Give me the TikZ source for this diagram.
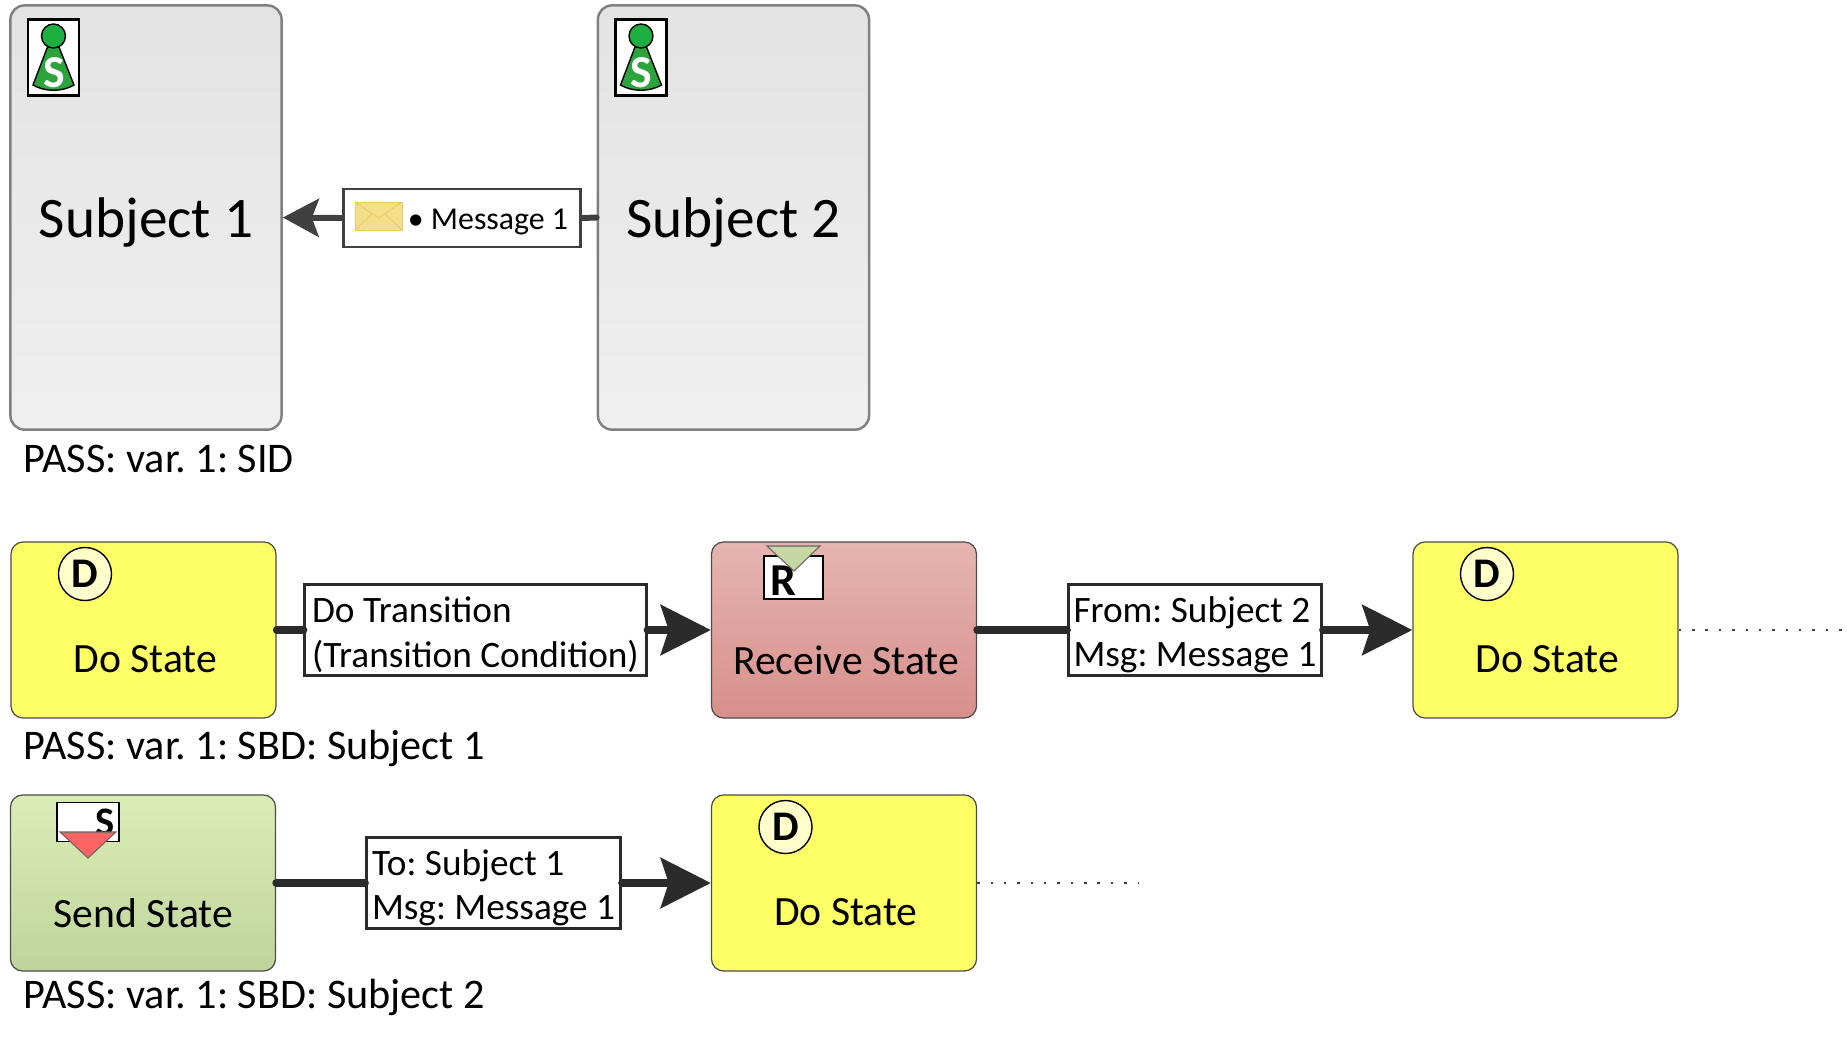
\documentclass[tikz,border=0pt]{standalone}
\usepackage{fontspec}
\setmainfont{Carlito}
\usetikzlibrary{arrows.meta}
\frenchspacing
\definecolor{linedark}{HTML}{2B2B2B}
\definecolor{linegray}{HTML}{404040}
\definecolor{dofill}{HTML}{FFFF66}
\definecolor{badgefill}{HTML}{FFFFCC}
\definecolor{recvtop}{HTML}{E6B5B0}
\definecolor{recvbottom}{HTML}{D78F8B}
\definecolor{sendtop}{HTML}{DBEDB6}
\definecolor{sendbottom}{HTML}{BFD49A}
\definecolor{pawnhead}{HTML}{1DB040}
\definecolor{pawncone}{HTML}{2BA43C}
\definecolor{envfill}{HTML}{F3DE8A}
\definecolor{envline}{HTML}{EBCB68}
\definecolor{recvtri}{HTML}{C5D8A4}
\definecolor{sendtri}{HTML}{FF6464}
\tikzset{
	subject/.style={draw=gray,line width=0.7pt,rounded corners=4pt,top color=black!11,bottom color=black!6,minimum width=2.71cm,minimum height=4.24cm,inner sep=0pt,font=\fontsize{16.3}{18}\selectfont},
	state/.style={draw=black!70,line width=0.35pt,rounded corners=3.5pt,minimum width=2.65cm,minimum height=1.76cm,inner sep=0pt},
	dostate/.style={state,fill=dofill},
	recvstate/.style={state,top color=recvtop,bottom color=recvbottom},
	sendstate/.style={state,top color=sendtop,bottom color=sendbottom},
	statetext/.style={inner sep=0pt,font=\fontsize{11.85}{14}\selectfont},
	caption/.style={anchor=west,inner sep=0pt,font=\fontsize{12}{14}\selectfont},
	msgbox/.style={draw=linedark,line width=0.8pt,fill=white,inner xsep=0.5pt,inner ysep=0pt,align=left,font=\fontsize{10.6}{12.6}\selectfont},
	conn/.style={draw=linedark,line width=2.2pt,line cap=round},
	arrowconn/.style={conn,-{Stealth[length=0.5cm,width=0.5cm,inset=0.08cm]}},
	dots/.style={draw=linegray,line width=0.7pt,dash pattern=on 0.7pt off 3.1pt},
	badge/.style={draw=black,fill=white,line width=0.5pt,inner sep=0pt},
	iconletter/.style={inner sep=0pt,font=\bfseries\fontsize{13}{14}\selectfont}
}
\newcommand{\boxstrut}{\rule{0pt}{10pt}}
\begin{document}
\begin{tikzpicture}[x=0.01cm,y=-0.01cm]
	\useasboundingbox (0,0) rectangle (1847,1041);

	% Subjects with pawn icons
	\foreach \n/\x in {1/146,2/733.5} {
		\node[subject] (subj\n) at (\x,217.5) {\rule{0pt}{14.3pt}Subject \n};
		\begin{scope}[shift={(\x-146,0)}]
			\node[badge,line width=0.7pt,minimum width=0.51cm,minimum height=0.76cm] (pawnbox\n) at (53.5,57.5) {};
			\draw[black,fill=pawncone,line width=0.4pt] (47.5,47) -- (59,47) -- (74,85) .. controls (62,92) and (45,92) .. (33,85) -- cycle;
			\node[circle,draw=black,fill=pawnhead,line width=0.4pt,minimum size=0.24cm,inner sep=0pt] (pawnhead\n) at (53.5,36) {};
			\node[iconletter,white] (pawns\n) at (54,73) {S};
		\end{scope}
	}

	% Message between subjects
	\node[msgbox,draw=linegray,minimum width=2.37cm,minimum height=0.58cm] (msg) at (462,218) {};
	\node[inner sep=0pt,font=\fontsize{9.05}{11}\selectfont] (msgtext) at (488,222) {• Message 1};
	\filldraw[draw=envline,fill=envfill,line width=0.25pt] (355,202) rectangle (402,230);
	\draw[envline,line width=0.25pt] (355,202) -- (378.5,218) -- (402,202) (355,230) -- (372,214) (402,230) -- (385,214);
	\draw[conn,draw=linegray,line width=1.7pt] (subj2.west) -- (msg.east);
	\draw[arrowconn,draw=linegray,line width=1.7pt,-{Stealth[length=0.36cm,width=0.38cm,inset=0.07cm]}] (msg.west) -- (subj1.east);
	\node[caption] (capsid) at (23,459) {PASS: var. 1: SID};

	% Do states
	\foreach \n/\x/\y in {1/143.5/630,2/1545.5/630,3/844/883} {
		\node[dostate] (do\n) at (\x,\y) {};
		\node[statetext] (dotext\n) at (\x+2,\y+29) {Do State};
		\node[circle,draw=black,fill=badgefill,line width=0.4pt,minimum size=0.53cm,inner sep=0pt,font=\bfseries\fontsize{12}{14}\selectfont] (dobadge\n) at (\x-58.5,\y-56) {D};
	}

	% Receive and send states
	\node[recvstate] (recv) at (844,630) {};
	\node[statetext] (recvtext) at (846,660) {Receive State};
	\node[badge,minimum width=0.59cm,minimum height=0.43cm] (recvicon) at (793.5,577.5) {};
	\filldraw[draw=black!60,fill=recvtri,line width=0.3pt] (767,546) -- (820,546) -- (794,571) -- cycle;
	\node[iconletter] (recvr) at (783,581) {R};
	\node[sendstate] (send) at (143,883) {};
	\node[statetext] (sendtext) at (143.5,913) {Send State};
	\node[badge,minimum width=0.62cm,minimum height=0.39cm] (sendicon) at (88,822) {};
	\node[iconletter,font=\bfseries\fontsize{11.5}{13}\selectfont] (sends) at (105,822) {S};
	\filldraw[draw=black!60,fill=sendtri,line width=0.3pt] (60,832) -- (116,832) -- (88,858) -- cycle;

	% Transition labels
	\node[msgbox,minimum width=3.41cm,minimum height=0.91cm] (trdo) at (475.5,630) {\boxstrut Do Transition\\(Transition Condition)};
	\node[msgbox,minimum width=2.53cm,minimum height=0.91cm] (trrecv) at (1195,630) {\boxstrut From: Subject 2\\Msg: Message 1};
	\node[msgbox,minimum width=2.54cm,minimum height=0.91cm] (trsend) at (493.5,883) {\boxstrut To: Subject 1\\Msg: Message 1};

	% Transitions
	\draw[conn] (do1.east) -- (trdo.west);
	\draw[arrowconn] (trdo.east) -- (recv.west);
	\draw[conn] (recv.east) -- (trrecv.west);
	\draw[arrowconn] (trrecv.east) -- (do2.west);
	\draw[conn] (send.east) -- (trsend.west);
	\draw[arrowconn] (trsend.east) -- (do3.west);

	% Dotted ends
	\coordinate (endtop) at (1847,630);
	\coordinate (endbottom) at (1139,883);
	\draw[dots] (do2.east) -- (endtop);
	\draw[dots] (do3.east) -- (endbottom);

	% Captions
	\node[caption] (capsbda) at (23,748) {PASS: var. 1: SBD: Subject 1};
	\node[caption] (capsbdb) at (23,997.5) {PASS: var. 1: SBD: Subject 2};
\end{tikzpicture}
\end{document}
